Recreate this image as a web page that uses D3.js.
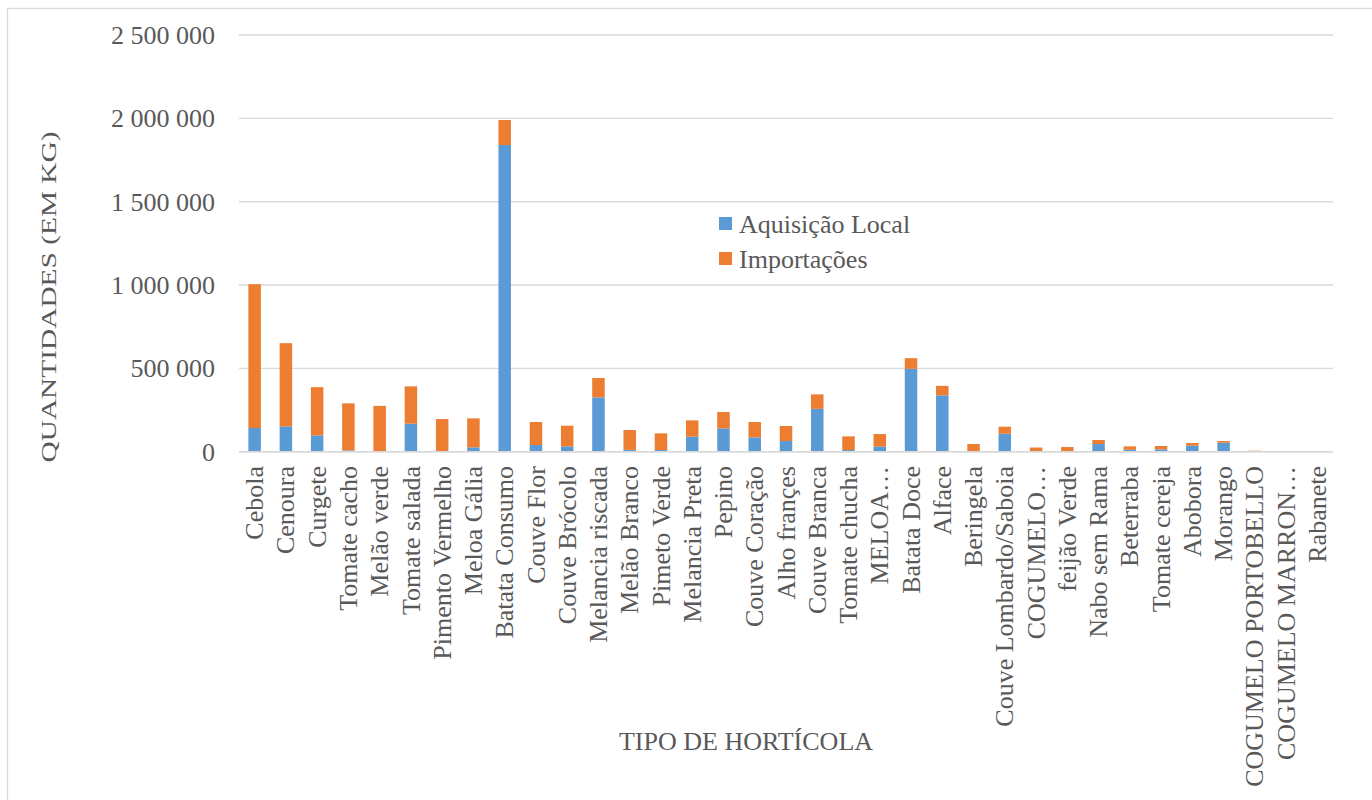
<!DOCTYPE html>
<html><head><meta charset="utf-8">
<script src="https://cdn.jsdelivr.net/npm/d3@7"></script>
<style>body{margin:0;background:#fff}svg{display:block}text{font-family:"Liberation Serif","Times New Roman",serif;fill:#595959}</style>
</head><body>
<svg id="c" width="1372" height="800"></svg>
<script>
const categories = ["Cebola","Cenoura","Curgete","Tomate cacho","Melão verde","Tomate salada","Pimento Vermelho","Meloa Gália","Batata Consumo","Couve Flor","Couve Brócolo","Melancia riscada","Melão Branco","Pimeto Verde","Melancia Preta","Pepino","Couve Coração","Alho françes","Couve Branca","Tomate chucha","MELOA…","Batata Doce","Alface","Beringela","Couve Lombardo/Saboia","COGUMELO…","feijão Verde","Nabo sem Rama","Beterraba","Tomate cereja","Abobora","Morango","COGUMELO PORTOBELLO","COGUMELO MARRON…","Rabanete"];
const aquisicaoLocal = [142000,152000,98000,8000,0,168000,0,26000,1840000,40000,32000,326000,11000,10000,90000,140000,86000,64000,257000,10000,30000,497000,338000,3000,108000,4000,3000,46000,12000,14000,36000,54000,0,0,0];
const importacoes = [863000,499000,289000,282000,275000,224000,196000,174000,150000,138000,124000,116000,119000,100000,98000,98000,92000,90000,87000,82000,76000,64000,57000,43000,42000,21000,25000,24000,20000,20000,16000,10000,6000,4000,1000];
const yTicks = [0,500000,1000000,1500000,2000000,2500000];
const seriesNames = ["Aquisição Local","Importações"];
const colors = ["#5B9BD5","#ED7D31"];

const svg = d3.select("#c");
// outer border
svg.append("rect").attr("x",7.5).attr("y",8.5).attr("width",1380).attr("height",800)
  .attr("fill","none").attr("stroke","#D9D9D9").attr("stroke-width",1.3);

const x = d3.scaleBand().domain(categories).range([239,1333]).paddingInner(0.6).paddingOuter(0.3);
const y = d3.scaleLinear().domain([0,2500000]).range([451.7,35]);
const fmt = d3.formatLocale({decimal:",",thousands:" ",grouping:[3],currency:["",""]}).format(",d");

// gridlines
svg.append("g").selectAll("line").data(yTicks).join("line")
  .attr("x1",239).attr("x2",1333).attr("y1",d=>y(d)).attr("y2",d=>y(d))
  .attr("stroke","#D9D9D9").attr("stroke-width",1.4);

// y tick labels
const yAxis = d3.axisLeft(y).tickValues(yTicks).tickFormat(fmt).tickSize(0).tickPadding(0);
const ga = svg.append("g").attr("transform","translate(215,0)").call(yAxis);
ga.select(".domain").remove();
ga.selectAll("text").attr("font-size",26).attr("fill","#595959").attr("font-family","Liberation Serif");

// stacked bars
const rows = categories.map((c,i)=>({cat:c, local:aquisicaoLocal[i], imp:importacoes[i]}));
const stack = d3.stack().keys(["local","imp"])(rows);
svg.append("g").selectAll("g").data(stack).join("g").attr("fill",(d,i)=>colors[i])
  .selectAll("rect").data(d=>d).join("rect")
  .attr("x",d=>x(d.data.cat)).attr("width",x.bandwidth())
  .attr("y",d=>y(d[1])).attr("height",d=>Math.max(0,y(d[0])-y(d[1])));

// baseline
svg.append("line").attr("x1",239).attr("x2",1333).attr("y1",y(0)).attr("y2",y(0))
  .attr("stroke","#D9D9D9").attr("stroke-width",1.4);

// category labels
svg.append("g").selectAll("text").data(categories).join("text")
  .attr("transform",d=>`translate(${x(d)+x.bandwidth()/2},466) rotate(-90)`)
  .attr("text-anchor","end").attr("dy","0.33em").attr("font-size",26).text(d=>d);

// axis titles
svg.append("text").attr("transform","translate(55.5,297) rotate(-90)").attr("text-anchor","middle")
  .attr("font-size",22).attr("textLength",331).attr("lengthAdjust","spacingAndGlyphs").text("QUANTIDADES (EM KG)");
svg.append("text").attr("x",746).attr("y",750).attr("text-anchor","middle")
  .attr("font-size",26).text("TIPO DE HORTÍCOLA");

// legend
const lg = svg.append("g").selectAll("g").data(seriesNames).join("g")
  .attr("transform",(d,i)=>`translate(719,${217+i*35})`);
lg.append("rect").attr("width",13).attr("height",13).attr("fill",(d,i)=>colors[i]);
lg.append("text").attr("x",20).attr("y",6.5).attr("dy","0.35em").attr("font-size",26).text(d=>d);
</script>
</body></html>
